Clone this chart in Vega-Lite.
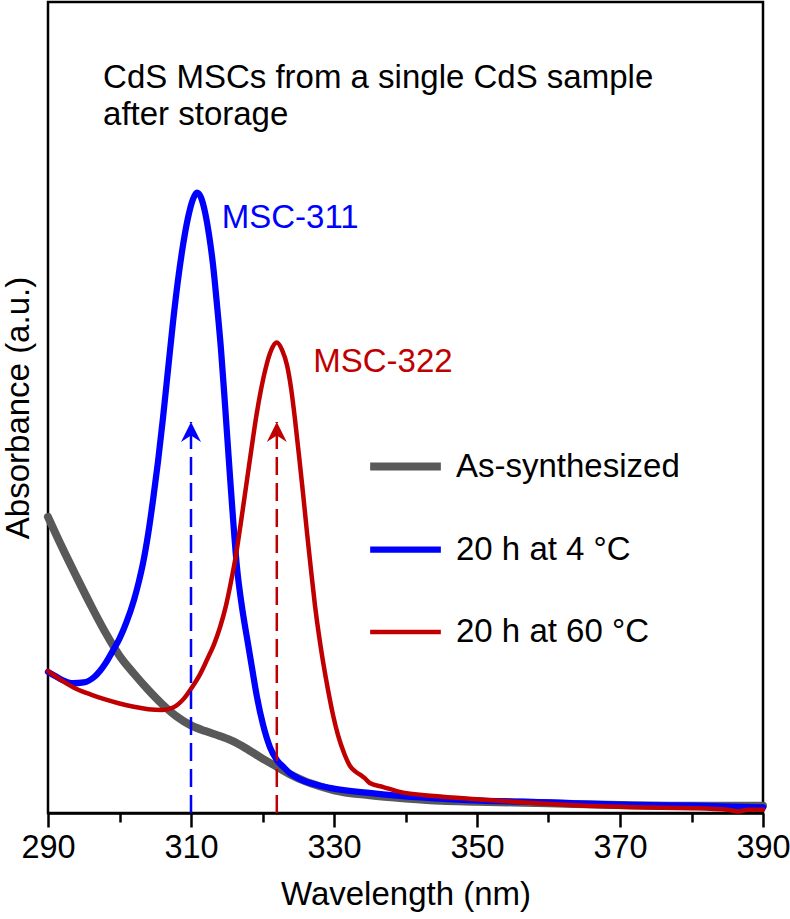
{
  "$schema": "https://vega.github.io/schema/vega-lite/v6.json",
  "width": 715,
  "height": 811,
  "padding": {"left": 2, "top": 2, "right": 0, "bottom": 0},
  "autosize": {"type": "pad"},
  "config": {
    "font": "Liberation Sans",
    "view": {"stroke": "black", "strokeWidth": 2.5},
    "axis": {
      "labelFont": "Liberation Sans", "titleFont": "Liberation Sans",
      "labelFontSize": 32.5, "titleFontSize": 33, "titleFontWeight": "normal",
      "labelColor": "black", "titleColor": "black",
      "domainColor": "black", "tickColor": "black", "grid": false
    },
    "legend": {
      "orient": "none", "legendX": 318, "legendY": 425,
      "symbolType": "stroke", "symbolSize": 5000,
      "labelFont": "Liberation Sans", "labelFontSize": 33, "labelColor": "black",
      "labelLimit": 0, "labelOffset": 11, "rowPadding": 27, "padding": 0
    }
  },
  "datasets": {
    "spectra": [
      {"s": "As-synthesized", "x": 290, "y": 0.365},
      {"s": "As-synthesized", "x": 292, "y": 0.327},
      {"s": "As-synthesized", "x": 294, "y": 0.291},
      {"s": "As-synthesized", "x": 296, "y": 0.256},
      {"s": "As-synthesized", "x": 298, "y": 0.223},
      {"s": "As-synthesized", "x": 300, "y": 0.194},
      {"s": "As-synthesized", "x": 302, "y": 0.172},
      {"s": "As-synthesized", "x": 304, "y": 0.152},
      {"s": "As-synthesized", "x": 306, "y": 0.134},
      {"s": "As-synthesized", "x": 308, "y": 0.119},
      {"s": "As-synthesized", "x": 310, "y": 0.108},
      {"s": "As-synthesized", "x": 312, "y": 0.101},
      {"s": "As-synthesized", "x": 314, "y": 0.095},
      {"s": "As-synthesized", "x": 316, "y": 0.088},
      {"s": "As-synthesized", "x": 318, "y": 0.078},
      {"s": "As-synthesized", "x": 320, "y": 0.067},
      {"s": "As-synthesized", "x": 322, "y": 0.057},
      {"s": "As-synthesized", "x": 324, "y": 0.047},
      {"s": "As-synthesized", "x": 326, "y": 0.039},
      {"s": "As-synthesized", "x": 328, "y": 0.033},
      {"s": "As-synthesized", "x": 330, "y": 0.028},
      {"s": "As-synthesized", "x": 335, "y": 0.022},
      {"s": "As-synthesized", "x": 340, "y": 0.018},
      {"s": "As-synthesized", "x": 345, "y": 0.015},
      {"s": "As-synthesized", "x": 350, "y": 0.014},
      {"s": "As-synthesized", "x": 360, "y": 0.012},
      {"s": "As-synthesized", "x": 370, "y": 0.010},
      {"s": "As-synthesized", "x": 380, "y": 0.009},
      {"s": "As-synthesized", "x": 390, "y": 0.009},

      {"s": "20 h at 4 °C", "x": 290, "y": 0.174},
      {"s": "20 h at 4 °C", "x": 291, "y": 0.169},
      {"s": "20 h at 4 °C", "x": 292, "y": 0.164},
      {"s": "20 h at 4 °C", "x": 293.5, "y": 0.160},
      {"s": "20 h at 4 °C", "x": 295, "y": 0.161},
      {"s": "20 h at 4 °C", "x": 296.5, "y": 0.168},
      {"s": "20 h at 4 °C", "x": 298, "y": 0.184},
      {"s": "20 h at 4 °C", "x": 299, "y": 0.199},
      {"s": "20 h at 4 °C", "x": 300, "y": 0.215},
      {"s": "20 h at 4 °C", "x": 301, "y": 0.236},
      {"s": "20 h at 4 °C", "x": 302, "y": 0.262},
      {"s": "20 h at 4 °C", "x": 302.7, "y": 0.285},
      {"s": "20 h at 4 °C", "x": 303.29, "y": 0.308},
      {"s": "20 h at 4 °C", "x": 303.99, "y": 0.343},
      {"s": "20 h at 4 °C", "x": 304.69, "y": 0.386},
      {"s": "20 h at 4 °C", "x": 305.38, "y": 0.433},
      {"s": "20 h at 4 °C", "x": 306.08, "y": 0.487},
      {"s": "20 h at 4 °C", "x": 306.78, "y": 0.546},
      {"s": "20 h at 4 °C", "x": 307.48, "y": 0.605},
      {"s": "20 h at 4 °C", "x": 308.18, "y": 0.657},
      {"s": "20 h at 4 °C", "x": 308.88, "y": 0.700},
      {"s": "20 h at 4 °C", "x": 309.58, "y": 0.734},
      {"s": "20 h at 4 °C", "x": 310.28, "y": 0.757},
      {"s": "20 h at 4 °C", "x": 310.84, "y": 0.765},
      {"s": "20 h at 4 °C", "x": 311.40, "y": 0.759},
      {"s": "20 h at 4 °C", "x": 311.96, "y": 0.741},
      {"s": "20 h at 4 °C", "x": 312.52, "y": 0.713},
      {"s": "20 h at 4 °C", "x": 313.08, "y": 0.676},
      {"s": "20 h at 4 °C", "x": 313.64, "y": 0.626},
      {"s": "20 h at 4 °C", "x": 314.20, "y": 0.571},
      {"s": "20 h at 4 °C", "x": 314.76, "y": 0.503},
      {"s": "20 h at 4 °C", "x": 315.31, "y": 0.433},
      {"s": "20 h at 4 °C", "x": 315.87, "y": 0.364},
      {"s": "20 h at 4 °C", "x": 316.43, "y": 0.303},
      {"s": "20 h at 4 °C", "x": 317.13, "y": 0.254},
      {"s": "20 h at 4 °C", "x": 317.83, "y": 0.216},
      {"s": "20 h at 4 °C", "x": 318.53, "y": 0.179},
      {"s": "20 h at 4 °C", "x": 319.23, "y": 0.143},
      {"s": "20 h at 4 °C", "x": 320.07, "y": 0.109},
      {"s": "20 h at 4 °C", "x": 321.05, "y": 0.081},
      {"s": "20 h at 4 °C", "x": 322.03, "y": 0.065},
      {"s": "20 h at 4 °C", "x": 322.9, "y": 0.057},
      {"s": "20 h at 4 °C", "x": 324, "y": 0.048},
      {"s": "20 h at 4 °C", "x": 325.2, "y": 0.042},
      {"s": "20 h at 4 °C", "x": 327, "y": 0.036},
      {"s": "20 h at 4 °C", "x": 329.4, "y": 0.031},
      {"s": "20 h at 4 °C", "x": 334.6, "y": 0.025},
      {"s": "20 h at 4 °C", "x": 339.2, "y": 0.021},
      {"s": "20 h at 4 °C", "x": 344, "y": 0.018},
      {"s": "20 h at 4 °C", "x": 348.6, "y": 0.016},
      {"s": "20 h at 4 °C", "x": 360.2, "y": 0.013},
      {"s": "20 h at 4 °C", "x": 371.8, "y": 0.010},
      {"s": "20 h at 4 °C", "x": 380, "y": 0.009},
      {"s": "20 h at 4 °C", "x": 390, "y": 0.007},

      {"s": "20 h at 60 °C", "x": 290, "y": 0.175},
      {"s": "20 h at 60 °C", "x": 292, "y": 0.163},
      {"s": "20 h at 60 °C", "x": 294, "y": 0.153},
      {"s": "20 h at 60 °C", "x": 296, "y": 0.146},
      {"s": "20 h at 60 °C", "x": 298, "y": 0.140},
      {"s": "20 h at 60 °C", "x": 300, "y": 0.135},
      {"s": "20 h at 60 °C", "x": 302, "y": 0.131},
      {"s": "20 h at 60 °C", "x": 304, "y": 0.128},
      {"s": "20 h at 60 °C", "x": 306, "y": 0.127},
      {"s": "20 h at 60 °C", "x": 307.5, "y": 0.130},
      {"s": "20 h at 60 °C", "x": 309, "y": 0.141},
      {"s": "20 h at 60 °C", "x": 310.14, "y": 0.155},
      {"s": "20 h at 60 °C", "x": 311.26, "y": 0.171},
      {"s": "20 h at 60 °C", "x": 312.24, "y": 0.189},
      {"s": "20 h at 60 °C", "x": 313.22, "y": 0.208},
      {"s": "20 h at 60 °C", "x": 314.06, "y": 0.229},
      {"s": "20 h at 60 °C", "x": 314.90, "y": 0.256},
      {"s": "20 h at 60 °C", "x": 315.59, "y": 0.285},
      {"s": "20 h at 60 °C", "x": 316.29, "y": 0.318},
      {"s": "20 h at 60 °C", "x": 316.99, "y": 0.359},
      {"s": "20 h at 60 °C", "x": 317.69, "y": 0.402},
      {"s": "20 h at 60 °C", "x": 318.39, "y": 0.445},
      {"s": "20 h at 60 °C", "x": 319.09, "y": 0.487},
      {"s": "20 h at 60 °C", "x": 319.79, "y": 0.522},
      {"s": "20 h at 60 °C", "x": 320.49, "y": 0.550},
      {"s": "20 h at 60 °C", "x": 321.19, "y": 0.570},
      {"s": "20 h at 60 °C", "x": 322.00, "y": 0.580},
      {"s": "20 h at 60 °C", "x": 322.73, "y": 0.571},
      {"s": "20 h at 60 °C", "x": 323.43, "y": 0.552},
      {"s": "20 h at 60 °C", "x": 323.99, "y": 0.524},
      {"s": "20 h at 60 °C", "x": 324.55, "y": 0.485},
      {"s": "20 h at 60 °C", "x": 325.10, "y": 0.441},
      {"s": "20 h at 60 °C", "x": 325.66, "y": 0.395},
      {"s": "20 h at 60 °C", "x": 326.22, "y": 0.346},
      {"s": "20 h at 60 °C", "x": 326.78, "y": 0.300},
      {"s": "20 h at 60 °C", "x": 327.34, "y": 0.256},
      {"s": "20 h at 60 °C", "x": 327.90, "y": 0.219},
      {"s": "20 h at 60 °C", "x": 328.46, "y": 0.187},
      {"s": "20 h at 60 °C", "x": 329.16, "y": 0.152},
      {"s": "20 h at 60 °C", "x": 329.86, "y": 0.121},
      {"s": "20 h at 60 °C", "x": 330.56, "y": 0.096},
      {"s": "20 h at 60 °C", "x": 331.40, "y": 0.074},
      {"s": "20 h at 60 °C", "x": 332.24, "y": 0.058},
      {"s": "20 h at 60 °C", "x": 333.0, "y": 0.051},
      {"s": "20 h at 60 °C", "x": 333.7, "y": 0.047},
      {"s": "20 h at 60 °C", "x": 334.3, "y": 0.043},
      {"s": "20 h at 60 °C", "x": 335.0, "y": 0.037},
      {"s": "20 h at 60 °C", "x": 336.9, "y": 0.032},
      {"s": "20 h at 60 °C", "x": 339.2, "y": 0.026},
      {"s": "20 h at 60 °C", "x": 344, "y": 0.021},
      {"s": "20 h at 60 °C", "x": 349.9, "y": 0.017},
      {"s": "20 h at 60 °C", "x": 355, "y": 0.014},
      {"s": "20 h at 60 °C", "x": 360.2, "y": 0.011},
      {"s": "20 h at 60 °C", "x": 365, "y": 0.009},
      {"s": "20 h at 60 °C", "x": 371.8, "y": 0.007},
      {"s": "20 h at 60 °C", "x": 380, "y": 0.006},
      {"s": "20 h at 60 °C", "x": 385, "y": 0.004},
      {"s": "20 h at 60 °C", "x": 386.5, "y": 0.002},
      {"s": "20 h at 60 °C", "x": 388, "y": 0.004},
      {"s": "20 h at 60 °C", "x": 390, "y": 0.004}
    ],
    "peaks": [
      {"s": "20 h at 4 °C", "label": "MSC-311", "x": 310, "base": 0, "tip": 0.482, "lx": 314.3, "ly": 0.734},
      {"s": "20 h at 60 °C", "label": "MSC-322", "x": 322, "base": 0, "tip": 0.482, "lx": 327.1, "ly": 0.556}
    ],
    "notes": [
      {"text": "CdS MSCs from a single CdS sample", "x": 297.7, "y": 0.906},
      {"text": "after storage", "x": 297.7, "y": 0.8607}
    ]
  },
  "layer": [
    {
      "data": {"name": "spectra"},
      "transform": [{"filter": "datum.s === 'As-synthesized'"}],
      "mark": {"type": "line", "interpolate": "monotone", "strokeCap": "round", "strokeJoin": "round"},
      "encoding": {
        "x": {"field": "x", "type": "quantitative", "scale": {"domain": [290, 390], "nice": false, "zero": false},
          "axis": {
            "title": "Wavelength (nm)",
            "values": [290, 300, 310, 320, 330, 340, 350, 360, 370, 380, 390],
            "labelExpr": "datum.value % 20 === 10 ? datum.label : ''",
            "tickSize": {"condition": {"test": "datum.value % 20 === 0", "value": 9}, "value": 14},
            "tickWidth": 2.5, "domainWidth": 2.5,
            "labelPadding": 4, "titlePadding": 15,
            "labelFlush": false, "labelOverlap": false
          }},
        "y": {"field": "y", "type": "quantitative", "scale": {"domain": [0, 1], "nice": false, "zero": false},
          "axis": {"title": "Absorbance (a.u.)", "ticks": false, "labels": false, "domain": false, "titlePadding": 13}},
        "color": {"field": "s", "type": "nominal", "title": null,
          "scale": {"domain": ["As-synthesized", "20 h at 4 °C", "20 h at 60 °C"], "range": ["#595959", "#0000ff", "#c00000"]}},
        "strokeWidth": {"field": "s", "type": "nominal", "title": null,
          "scale": {"domain": ["As-synthesized", "20 h at 4 °C", "20 h at 60 °C"], "range": [8, 4.5, 4.5]}}
      }
    },
    {
      "data": {"name": "spectra"},
      "transform": [{"filter": "datum.s === '20 h at 4 °C'"}],
      "mark": {"type": "line", "interpolate": "monotone", "strokeCap": "round", "strokeJoin": "round"},
      "encoding": {
        "x": {"field": "x", "type": "quantitative"},
        "y": {"field": "y", "type": "quantitative"},
        "color": {"field": "s", "type": "nominal", "title": null},
        "strokeWidth": {"field": "s", "type": "nominal", "title": null}
      }
    },
    {
      "data": {"name": "spectra"},
      "transform": [{"filter": "datum.s === '20 h at 60 °C'"}],
      "mark": {"type": "line", "interpolate": "monotone", "strokeCap": "round", "strokeJoin": "round"},
      "encoding": {
        "x": {"field": "x", "type": "quantitative"},
        "y": {"field": "y", "type": "quantitative"},
        "color": {"field": "s", "type": "nominal", "title": null},
        "strokeWidth": {"field": "s", "type": "nominal", "title": null}
      }
    },
    {
      "data": {"name": "peaks"},
      "mark": {"type": "rule", "strokeDash": [18, 8], "strokeWidth": 2.5},
      "encoding": {
        "x": {"field": "x", "type": "quantitative"},
        "y": {"field": "base", "type": "quantitative"},
        "y2": {"field": "tip"},
        "stroke": {"field": "s", "type": "nominal", "legend": null,
          "scale": {"domain": ["20 h at 4 °C", "20 h at 60 °C"], "range": ["#0000ff", "#c00000"]}}
      }
    },
    {
      "data": {"name": "peaks"},
      "mark": {"type": "point", "shape": "M0,-1L1,1L0,0.35L-1,1Z", "size": 400, "filled": true, "opacity": 1, "strokeWidth": 0, "yOffset": 10},
      "encoding": {
        "x": {"field": "x", "type": "quantitative"},
        "y": {"field": "tip", "type": "quantitative"},
        "fill": {"field": "s", "type": "nominal", "legend": null,
          "scale": {"domain": ["20 h at 4 °C", "20 h at 60 °C"], "range": ["#0000ff", "#c00000"]}}
      }
    },
    {
      "data": {"name": "peaks"},
      "mark": {"type": "text", "align": "left", "baseline": "middle", "fontSize": 33, "font": "Liberation Sans"},
      "encoding": {
        "x": {"field": "lx", "type": "quantitative"},
        "y": {"field": "ly", "type": "quantitative"},
        "text": {"field": "label", "type": "nominal"},
        "fill": {"field": "s", "type": "nominal", "legend": null}
      }
    },
    {
      "data": {"name": "notes"},
      "mark": {"type": "text", "align": "left", "baseline": "middle", "fontSize": 33, "font": "Liberation Sans", "color": "black"},
      "encoding": {
        "x": {"field": "x", "type": "quantitative"},
        "y": {"field": "y", "type": "quantitative"},
        "text": {"field": "text", "type": "nominal"}
      }
    }
  ]
}
